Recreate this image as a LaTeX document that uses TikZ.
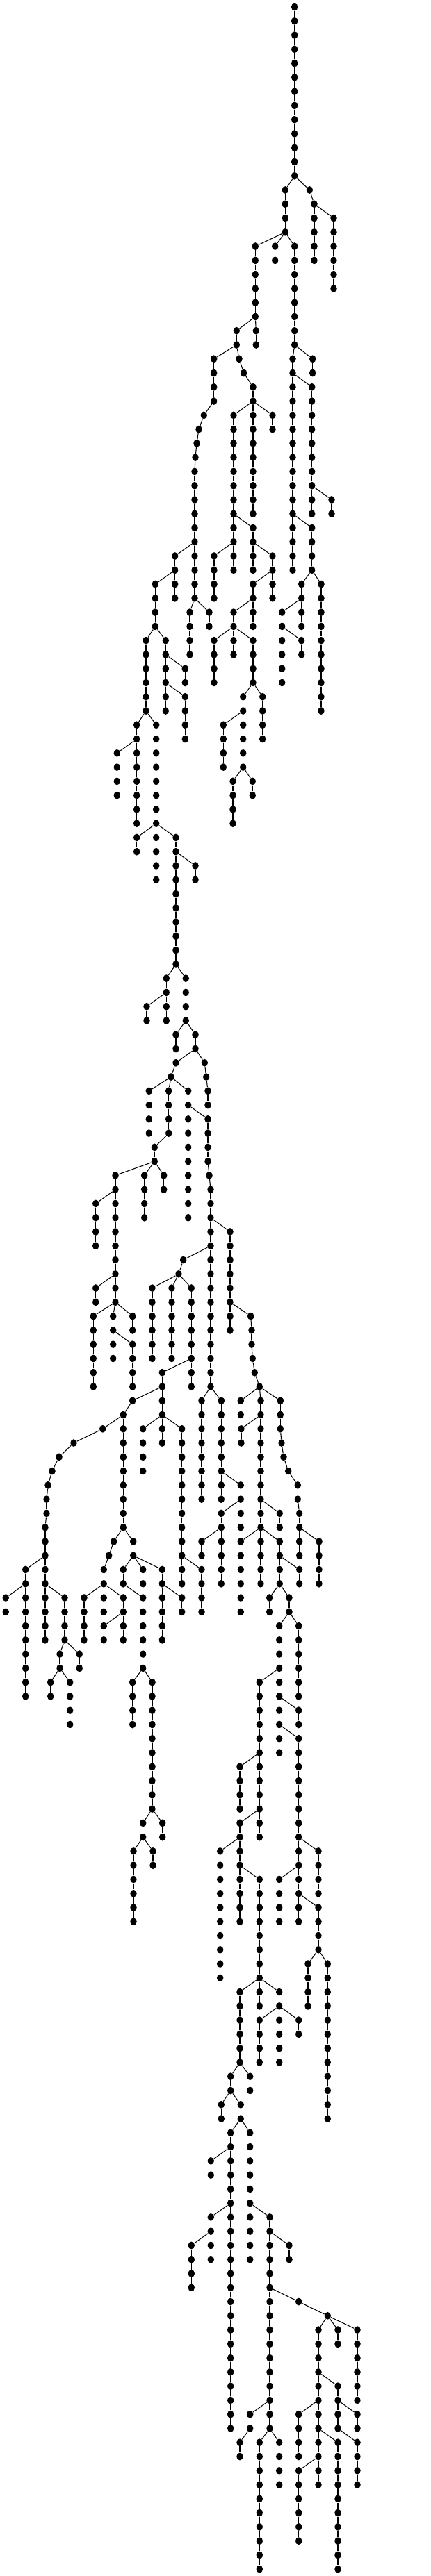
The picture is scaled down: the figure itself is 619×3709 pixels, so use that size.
\documentclass[tikz,border=0pt]{standalone}
\usepackage{tikz}
\usetikzlibrary{shapes.geometric}

\begin{document}
\begin{tikzpicture}[x=0.02cm, y=0.02cm,
  vertex/.style={ellipse,fill=black,inner sep=0pt,minimum width=0.19cm,minimum height=0.215cm},
  link/.style={line width=0.6pt}]
\useasboundingbox (0,0) rectangle (619,-3709);

\node[vertex] (r) at (423.7,-10) {};

% chains: name/parent/x/first level/last level
\foreach \cn/\pa/\xx/\la/\lb in {
  t/r/423.7/1/12, a/t-12/410.3/13/16, b/t-12/445.3/13/13,
  b2/b-13/452/14/18, b3/b2-14/480/15/20,
  d/a-16/367.3/17/22, e/a-16/395.7/17/18, f/a-16/423.7/17/24,
  d1/d-22/340.3/23/24, d2/d-22/368.3/23/24,
  g/d1-24/307.7/25/28, g3/g-28/293.3/29/29, g4/g3-29/286/30/30,
  g5/g4-30/283/31/31, g6/g5-31/281/32/32, g7/g6-32/280/33/42,
  g8/g7-42/273/43/46, g9/g7-42/301/43/44,
  h/d1-24/344/25/25, h2/h-25/350.7/26/26, h3/h2-26/364/27/28,
  h4/h3-28/336/29/40, h5/h3-28/364/29/36, h6/h3-28/392/29/30,
  h7/h4-36/364/37/40, h8/h4-38/308/39/42, h9/h7-38/392/39/42,
  h10/h9-40/364/41/44, h11/h10-42/336/43/46,
  h12/h11-44/308/45/48, h13/h11-44/364/45/48,
  h14/h13-48/349.7/49/54, h15/h13-48/377.7/49/52,
  h16/h14-50/321.3/51/54, h17/h14-54/335/55/58, h18/h14-54/363.3/55/56,
  i/g7-38/251.7/39/40, i1/i-40/223.3/41/44, i2/i-40/251.7/41/42,
  j/i1-44/210/45/50, k/i1-44/238.3/45/50,
  k1/k-46/266.3/47/48, k2/k-48/266.3/49/52,
  j1/j-50/196.7/51/52, j2/j-50/224.7/51/58,
  j3/j1-52/168.3/53/56, j4/j1-52/196.7/53/58,
  m1/j2-58/196.7/59/60, m2/j2-58/224.7/59/62, m3/j2-58/253/59/68,
  m4/m3-60/281/61/62,
  n1/m3-68/239.3/69/70, n2/m3-68/267.3/69/72,
  n3/n1-70/211/71/72, n4/n1-70/239.3/71/72,
  n5/n2-72/253/73/74, n6/n2-72/281/73/74,
  p1/n6-74/253/75/75, p2/p1-75/246/76/76,
  q1/n6-74/294.3/75/75, q2/q1-75/296.7/76/76, q3/q2-76/299/77/78,
  s1/p2-76/214.3/77/80, s2/p2-76/242.7/77/80, s3/p2-76/270.7/77/78,
  s4/s2-80/222.3/81/82,
  u1/s4-82/166/83/84, u2/s4-82/207.7/83/86, u3/s4-82/235.7/83/84,
  u4/u1-84/137.7/85/88, u5/u1-84/166/85/90,
  u6/u5-90/137.7/91/92, u7/u5-90/166/91/92,
  v1/u7-92/134.3/93/98, v2/u7-92/162.7/93/96, v3/u7-92/190.7/93/94,
  v4/v2-94/190.7/95/98,
  s5/s3-78/270.7/79/86, w/s3-78/299/79/82, w2/w-82/301/83/83,
  w3/w2-83/303/84/98, w4/w3-86/331/87/94,
  x1/w4-92/360.7/93/93, x2/x1-93/362/94/95, x3/x2-95/363.3/96/96,
  x4/x3-96/366.3/97/97, x5/x4-97/373.3/98/98,
  y1/w3-88/263.7/89/89, y2/y1-89/257/90/90,
  y3/y2-90/219/91/96, y4/y2-90/247/91/96, y5/y2-90/275.3/91/98,
  z1/y5-96/233.3/97/102, z2/z1-98/190.7/99/99, z3/z2-99/177.3/100/108,
  z4/z1-100/205.7/101/104, z5/z1-100/261.7/101/112, z6/z5-110/290/111/114,
  aa1/z3-100/147.7/101/101, aa2/aa1-101/106/102/102, aa3/aa2-102/85/103/103,
  aa4/aa3-103/75/104/104, aa5/aa4-104/69/105/105, aa6/aa5-105/67/106/107,
  aa7/aa6-107/65/108/116,
  ab1/aa7-110/36.7/111/120, ab2/ab1-112/8.3/113/114,
  ac1/aa7-112/93/113/116, ac2/ac1-116/86/117/118, ac3/ac1-116/114.3/117/118,
  ac4/ac2-118/72.7/119/120, ac5/ac2-118/100.7/119/122,
  ad1/z3-108/163.7/109/109, ad2/ad1-109/156.7/110/110, ad3/ad2-110/149.3/111/114,
  ad4/ad3-112/121/113/116, ad5/ad3-112/177.3/113/116, ad6/ad5-114/149.3/115/116,
  ae1/z3-108/191.7/109/110, ae2/ae1-110/177.3/111/112, ae3/ae2-112/205.7/113/118,
  ae4/ae1-110/205.7/111/112, ae5/ae1-110/233.3/111/116, ae6/ae5-112/261.7/113/114,
  af1/ae3-118/190.7/119/122, af2/ae3-118/219/119/128,
  af3/af2-128/233.7/129/130, af4/af2-128/205.7/129/130,
  af5/af4-130/192/131/136, af6/af4-130/220/131/132,
  ag1/w3-98/290/99/106, ag2/w3-98/318.3/99/106, ag3/ag2-104/346.3/105/108,
  ag4/ag3-106/318.3/107/112, ag5/ag4-108/290/109/110,
  ah1/x5-98/346.3/99/100, ah2/x5-98/375/99/112, ah3/ah2-100/347/101/102,
  ai1/x5-98/403.3/99/101, ai2/ai1-101/405/102/102, ai3/ai2-102/408/103/103,
  ai4/ai3-103/414.7/104/104, ai5/ai4-104/428.3/105/106, ai6/ai5-106/430.7/107/110,
  ai7/ai6-108/459/109/112,
  aj1/ah2-106/402.3/107/108,
  ak1/ah2-108/346.3/109/114, ak2/ah2-108/402.3/109/112, ak3/ak2-110/430.7/111/112,
  ak4/ak2-112/387.7/113/114, ak5/ak2-112/416/113/114,
  al1/ak5-114/401.7/115/124, al2/ak5-114/429.7/115/120,
  al3/al1-118/373.3/119/130, al4/al1-120/429.7/121/122,
  am1/al1-122/429.7/123/136, am2/am1-130/458/131/134,
  am3/am1-132/401.7/133/136, am4/am1-134/458/135/138,
  an1/am4-138/443/139/142, an2/am4-138/471.3/139/150,
  ao1/al3-124/345/125/128, ao2/al3-128/345/129/136,
  ao3/ao2-130/316.7/131/140, ao4/ao2-132/373.3/133/142,
  ap1/ao4-140/345/141/146, ap2/ao4-140/401.7/141/146,
  ap3/ap2-142/373.3/143/146, ap4/ap2-142/429.7/143/144,
  aq1/ap1-146/331.7/147/148, aq2/ap1-146/359.7/147/148,
  aq3/aq1-148/318.3/149/150, aq4/aq1-148/346.3/149/150,
  ar1/aq4-150/331.7/151/172, ar2/aq4-150/359.7/151/160,
  as1/ar1-152/303.3/153/154, as2/ar1-156/303.3/157/160, as3/as2-158/275.3/159/162,
  at1/ar2-156/388/157/172, at2/at1-158/416/159/160,
  au1/at1-162/429.7/163/163, au2/au1-163/471.3/164/164,
  au3/au2-164/458/165/176, au4/au2-164/486/165/166, au5/au2-164/514/165/170,
  av1/au3-168/486/169/172, av2/av1-172/514/173/176, av3/av1-170/514/171/172,
  av4/au3-170/429.7/171/174, av5/au3-172/486/173/182, av6/au3-174/429.7/175/180,
  aw1/at1-170/359.7/171/172, aw2/aw1-172/345/173/174,
  aw3/at1-172/373.3/173/182, aw4/at1-172/401.7/173/176,
  f1/f-24/421/25/40, f2/f-24/449.7/25/26,
  f3/f1-26/448.7/27/36, f4/f3-34/477/35/36, f5/f1-36/448.7/37/40,
  f6/f5-40/433.7/41/44, f7/f6-42/405.7/43/48, f8/f7-44/433.7/45/46,
  f9/f5-40/462/41/50}{
  \foreach \l in {\la,...,\lb}{
    \pgfmathtruncatemacro\pl{\l-1}
    \node[vertex] (\cn-\l) at (\xx,{-10-20.27*\l}) {};
    \ifnum\l=\la\relax
      \draw[link] (\pa) -- (\cn-\l);
    \else
      \draw[link] (\cn-\pl) -- (\cn-\l);
    \fi
  }
}

\end{tikzpicture}
\end{document}
